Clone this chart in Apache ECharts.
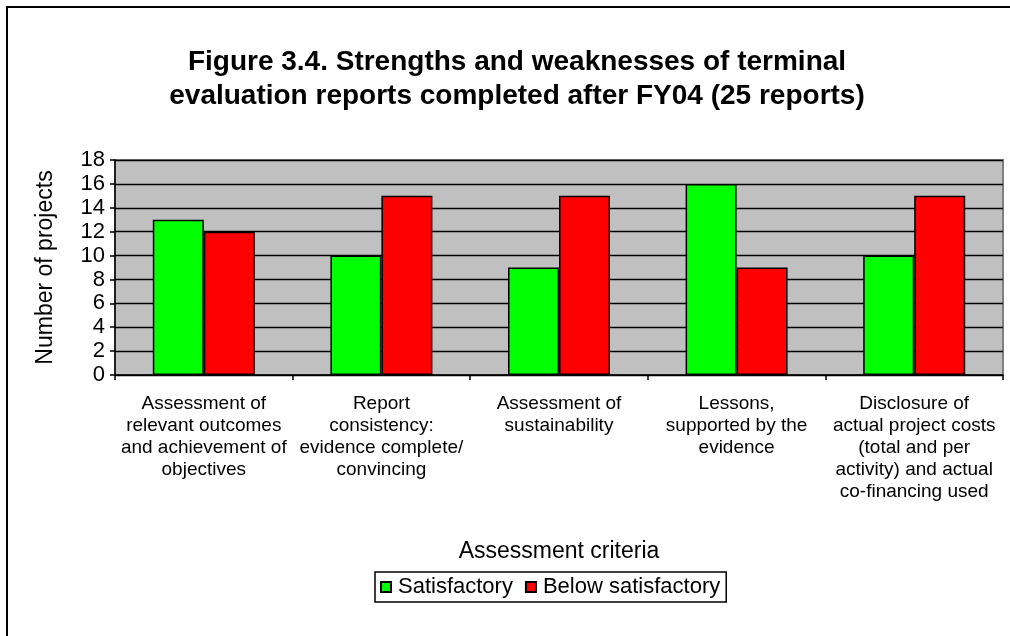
<!DOCTYPE html>
<html>
<head>
<meta charset="utf-8">
<script src="https://cdn.jsdelivr.net/npm/echarts@6/dist/echarts.min.js"></script>
<style>
  html, body { margin: 0; padding: 0; background: #fff; }
  #chart { width: 1010px; height: 636px; }
</style>
</head>
<body>
<div id="chart"></div>
<script>
// criteria along the x axis
const criteria = [
  'Assessment of\nrelevant outcomes\nand achievement of\nobjectives',
  'Report\nconsistency:\nevidence complete/\nconvincing',
  'Assessment of\nsustainability',
  'Lessons,\nsupported by the\nevidence',
  'Disclosure of\nactual project costs\n(total and per\nactivity) and actual\nco-financing used'
];
const satisfactory = [13, 10, 9, 16, 10];
const belowSatisfactory = [12, 15, 15, 9, 15];
const seriesNames = ['Satisfactory', 'Below satisfactory'];

const font = 'Arial, "Liberation Sans", sans-serif';
const chart = echarts.init(document.getElementById('chart'));

chart.setOption({
  animation: false,
  textStyle: { fontFamily: font, color: '#000' },
  title: {
    text: 'Figure 3.4. Strengths and weaknesses of terminal\nevaluation reports completed after FY04 (25 reports)',
    left: 512,
    top: 40,
    textAlign: 'center',
    textStyle: { fontSize: 28, fontWeight: 'bold', lineHeight: 34, fontFamily: font, color: '#000' }
  },
  graphic: [{
    type: 'rect',
    shape: { x: 7, y: 7, width: 1100, height: 700 },
    style: { fill: 'none', stroke: '#000', lineWidth: 2 },
    silent: true
  }],
  legend: {
    data: seriesNames,
    left: 375,
    top: 572,
    padding: [3, 6, 3, 5],
    itemGap: 12,
    itemWidth: 10,
    itemHeight: 10,
    icon: 'rect',
    borderColor: '#000',
    borderWidth: 1.5,
    textStyle: { fontSize: 22, lineHeight: 24, fontFamily: font, color: '#000', padding: [0, 0, 0, 2] }
  },
  grid: {
    left: 115,
    right: 7,
    top: 160,
    bottom: 261,
    show: true,
    backgroundColor: '#c0c0c0',
    borderColor: '#808080',
    borderWidth: 2
  },
  xAxis: {
    type: 'category',
    data: criteria,
    name: 'Assessment criteria',
    nameLocation: 'middle',
    nameGap: 165,
    nameTextStyle: { fontSize: 23, fontFamily: font, color: '#000' },
    axisLine: { lineStyle: { color: '#000', width: 1.5 } },
    axisTick: { show: true, alignWithLabel: false, length: 5, lineStyle: { color: '#000', width: 1.5 } },
    axisLabel: { interval: 0, fontSize: 19, lineHeight: 22, margin: 18, color: '#000', fontFamily: font, align: 'center' }
  },
  yAxis: {
    type: 'value',
    min: 0,
    max: 18,
    interval: 2,
    name: 'Number of projects',
    nameLocation: 'middle',
    nameGap: 58,
    nameTextStyle: { fontSize: 23, fontFamily: font, color: '#000' },
    axisLine: { show: true, lineStyle: { color: '#000', width: 1.5 } },
    axisTick: { show: true, length: 5, lineStyle: { color: '#000', width: 1.5 } },
    axisLabel: { fontSize: 22, margin: 10, color: '#000', fontFamily: font },
    splitLine: { show: true, lineStyle: { color: '#000', width: 1.3 } }
  },
  series: [
    {
      name: seriesNames[0],
      type: 'bar',
      data: satisfactory,
      barWidth: 51,
      barGap: '0%',
      itemStyle: { color: '#00ff00', borderColor: '#000', borderWidth: 1.5 }
    },
    {
      name: seriesNames[1],
      type: 'bar',
      data: belowSatisfactory,
      barWidth: 51,
      barGap: '0%',
      itemStyle: { color: '#ff0000', borderColor: '#000', borderWidth: 1.5 }
    }
  ]
});
</script>
</body>
</html>
